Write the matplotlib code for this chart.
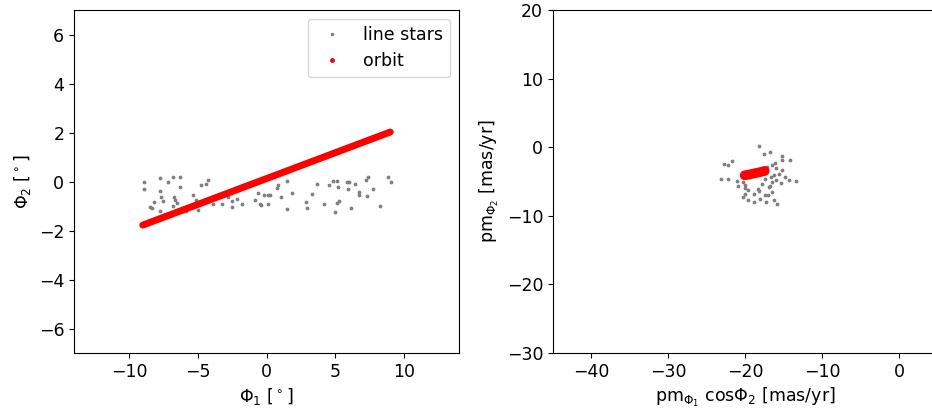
import matplotlib
matplotlib.use("Agg")
import matplotlib.pyplot as plt
from matplotlib.lines import Line2D

# line stars: sky positions (phi1, phi2) in degrees
phi1 = [-8.93, -8.93, -8.47, -8.35, -8.2, -7.72, -7.72, -7.67, -7.52, -7.77,
        -7.18, -6.82, -6.7, -6.65, -6.5, -6.77, -6.29, -6.29, -6.04, -5.83,
        -5.34, -5.15, -5.0, -4.73, -4.42, -4.27, -3.86, -3.25, -2.77, -2.48,
        -2.48, -2.16, -1.77, -0.83, -0.63, -0.46, -0.39, -0.15, 0.1, 0.1,
        0.24, 0.73, 0.83, 1.09, 1.5, 1.5, 1.89, 2.84, 2.91, 3.3,
        3.69, 4.17, 4.56, 4.85, 4.95, 5.1, 5.19, 5.29, 5.1, 5.83,
        6.02, 5.92, 6.12, 6.41, 6.75, 6.7, 7.23, 7.38, 7.28, 7.72,
        8.25, 8.83, 9.03]
phi2 = [-0.01, -0.31, -1.03, -1.1, -0.83, 0.14, -0.39, -0.63, -0.8, -1.2,
        -0.04, 0.18, -0.63, -0.76, -0.86, -0.98, 0.18, -0.22, -1.2, -1.2,
        -0.54, -0.76, -1.17, -0.16, -0.11, 0.08, -0.93, -0.93, -0.65, -0.79,
        -1.06, -0.71, -0.93, -0.76, -0.46, -0.93, -0.95, -0.57, -0.57, -0.9,
        -0.57, -0.26, -0.16, -0.65, 0.04, -1.14, -0.46, -0.83, -1.09, -0.49,
        -0.12, -0.93, -0.15, 0.04, -1.24, 0.04, -0.22, -0.79, -0.87, -0.01,
        -0.01, -0.31, -1.09, -0.11, -0.44, -0.57, 0.08, 0.19, -0.6, -0.31,
        -0.99, 0.19, -0.01]

# line stars: proper motions (mas/yr)
pm1 = [-18.24, -17.63, -16.75, -15.25, -15.25, -14.2, -22.81, -22.29, -21.76, -23.16,
       -22.29, -21.14, -20.97, -20.35, -20.09, -20.0, -19.65, -20.31, -19.65, -18.95,
       -20.09, -18.95, -18.42, -18.24, -17.45, -17.27, -16.31, -15.87, -16.57, -16.92,
       -16.57, -16.31, -16.04, -16.57, -17.19, -16.13, -15.69, -15.25, -14.81, -14.37,
       -13.41, -16.66, -16.79, -17.1, -17.89, -18.07, -15.43, -17.45, -16.04]
pm2 = [0.2, -1.02, -0.68, -1.27, -1.8, -1.9, -2.39, -2.63, -2.05, -4.59,
       -4.59, -4.98, -5.61, -5.07, -5.46, -5.9, -6.24, -7.27, -7.76, -8.05,
       -6.83, -6.78, -6.05, -6.44, -7.02, -7.95, -7.66, -8.24, -6.54, -5.8,
       -5.07, -4.1, -3.02, -2.63, -2.88, -2.29, -3.85, -3.37, -4.34, -4.83,
       -4.93, -4.34, -5.61, -6.93, -5.41, -7.51, -5.22, -4.59, -4.83]

# orbit track (sky and proper motion)
orbit_phi1 = [-9.0, -4.5, 0.0, 4.5, 9.0]
orbit_phi2 = [-1.78, -0.83, 0.12, 1.07, 2.02]
orbit_pm1 = [-20.1, -19.4, -18.8, -18.1, -17.5]
orbit_pm2 = [-4.1, -3.95, -3.8, -3.63, -3.46]

plt.rcParams['font.size'] = 12.5

fig = plt.figure(figsize=(9.32, 4.09), dpi=100)
ax1 = fig.add_axes([0.0794, 0.1369, 0.4131, 0.8386])
ax2 = fig.add_axes([0.5933, 0.1369, 0.4131, 0.8386])

# left panel: sky positions
ax1.scatter(phi1, phi2, s=3, color='gray', zorder=2)
ax1.plot(orbit_phi1, orbit_phi2, color='red', lw=5, solid_capstyle='round', zorder=3)
ax1.set_xlim(-14, 14)
ax1.set_ylim(-7, 7)
ax1.set_xlabel(r'$\Phi_1$ [$^\circ$]')
ax1.set_ylabel(r'$\Phi_2$ [$^\circ$]')

handles = [Line2D([], [], ls='', marker='.', ms=3, color='gray'),
           Line2D([], [], ls='', marker='.', ms=5, color='red')]
ax1.legend(handles, ['line stars', 'orbit'], loc='upper right')

# right panel: proper motions
ax2.scatter(pm1, pm2, s=3, color='gray', zorder=2)
ax2.plot(orbit_pm1, orbit_pm2, color='red', lw=7, solid_capstyle='round', zorder=3)
ax2.set_xlim(-45, 5)
ax2.set_ylim(-30, 20)
ax2.set_xlabel(r'pm$_{\Phi_1}$ cos$\Phi_2$ [mas/yr]')
ax2.set_ylabel(r'pm$_{\Phi_2}$ [mas/yr]')

fig.savefig('out.png', dpi=100)
